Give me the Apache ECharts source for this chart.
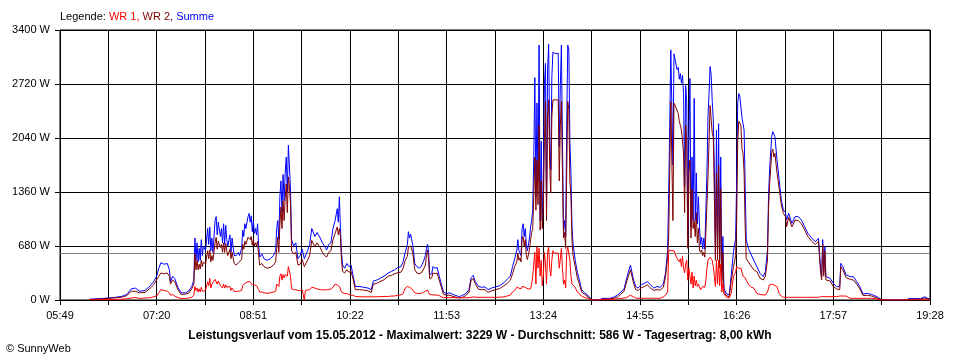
<!DOCTYPE html>
<html>
<head>
<meta charset="utf-8">
<script src="https://cdn.jsdelivr.net/npm/echarts@6/dist/echarts.min.js"></script>
<style>
html,body{margin:0;padding:0;background:#fff;}
#c{width:960px;height:360px;}
</style>
</head>
<body>
<div id="c"></div>
<script>
// Time axis: minutes after 05:49
const START_MIN = 349; // 05:49
const X_MAX = 819;     // 19:28
const X_STEP = 45.5;
const Y_TICKS = [0, 680, 1360, 2040, 2720, 3400];
const AVG = 586;

const T = [
28,40,50,58,63,67,71,75,80,85,
88,91,93,95,98,101,103,104,106,108,
111,114,118,121,124,126,127,128,129,130,
131,132,133,134,135,137,139,140,141,142,
143,144,146,147,148,149,151,152,153,154,
155,156,157,158,160,161,162,164,166,168,
169,171,172,173,174,175,177,178,179,180,
181,182,183,184,185,186,187,188,190,192,
195,198,201,203,204,205,206,207,208,209,
210,211,212,213,214,215,216,217,218,220,
222,224,226,228,230,231,233,235,237,238,
240,242,243,245,247,249,251,253,255,257,
259,261,262,263,264,265,266,268,270,272,
274,276,278,282,286,290,293,295,298,301,
305,309,312,315,318,321,323,325,327,328,
329,330,331,332,334,336,338,340,342,344,
345,346,347,348,350,351,353,355,357,359,
361,364,367,370,373,376,379,382,385,387,
389,391,394,397,400,403,406,410,414,418,
421,424,426,428,430,431,432,433,434,435,
436,437,438,439,440,441,442,443,444,445,
446,447,448,449,450,451,452,453,454,455,
456,457,458,459,460,461,462,463,464,465,
467,469,470,471,472,473,474,475,476,477,
478,479,480,481,482,483,485,487,489,491,
494,497,500,503,508,510,518,522,525,528,
531,533,535,537,538,540,542,544,547,550,
553,556,559,562,565,568,570,572,573,574,
575,576,577,578,579,580,581,582,583,584,
585,586,587,588,589,590,591,592,593,594,
595,596,597,598,599,600,601,602,603,604,
605,606,607,608,609,610,611,612,613,614,
615,616,617,618,619,620,621,622,623,624,
625,627,630,632,634,635,636,637,638,639,
640,641,642,643,644,645,646,648,650,653,
656,659,662,664,666,667,668,670,671,672,
673,675,677,679,681,683,684,686,689,692,
695,698,701,704,708,711,714,715,716,717,
718,719,720,721,722,725,728,731,734,735,
737,740,744,747,750,753,756,760,764,769,
773,778,797,799,810,814,817,819
];

const SUMME = [
10,20,30,45,70,140,150,110,120,180,
230,300,400,470,450,460,380,230,300,270,
160,90,90,110,170,250,780,500,720,480,
650,500,760,560,680,620,900,700,920,620,
780,600,1000,1050,820,980,800,900,720,960,
700,940,760,680,820,600,780,560,560,600,
560,650,880,800,960,900,1050,1090,980,1060,
860,1000,840,900,820,960,680,540,580,520,
500,520,560,620,900,1000,760,1300,1500,1100,
1580,1250,1600,1800,1350,1950,1930,1400,760,680,
720,520,560,640,520,500,620,700,900,880,
800,850,860,780,720,680,630,700,720,900,
1000,1150,980,1300,900,600,440,400,460,420,
440,300,170,170,160,150,130,240,250,270,
300,340,360,380,410,420,480,600,700,860,
780,830,820,700,460,420,400,420,480,560,
650,700,600,320,330,420,400,410,300,200,
100,80,90,70,55,42,60,80,130,280,
310,230,170,160,165,130,150,165,180,220,
260,300,420,520,620,760,620,640,560,900,
960,800,900,700,620,640,780,920,1000,1140,
1800,2800,1300,2480,1500,3210,1000,2000,1000,1500,
2700,2980,1180,2900,3220,2000,1640,2800,3120,3100,
3100,3110,1930,2700,3210,2000,880,1000,800,2200,
3210,3150,2000,1600,900,710,500,350,250,130,
90,60,10,0,0,20,21,40,63,100,
140,250,350,440,420,250,170,150,190,210,
230,190,150,170,160,200,340,620,1340,2200,
3150,3130,1700,3100,3090,2960,2900,2930,2780,2850,
2730,2830,2600,1430,2700,2480,800,2000,2790,920,
1800,1000,2540,1000,1600,960,1300,920,700,790,
640,780,640,1130,1600,2300,2600,2940,2830,2500,
2270,1640,590,2140,600,2220,500,1800,260,800,
150,84,63,330,600,700,760,1500,2480,2600,
2560,2580,2300,2220,2140,1430,760,650,590,504,
420,336,294,357,630,1300,1640,2060,2120,2090,
2057,1760,1511,1260,1133,1100,1007,1091,965,1049,
1050,1007,923,839,776,734,776,797,400,294,
760,350,671,294,300,273,210,168,168,462,
420,315,294,294,231,168,76,84,70,42,
8,0,0,17,17,40,20,10
];

const WR2 = [
5,15,25,35,55,110,110,90,95,150,
190,255,300,340,330,340,300,200,250,230,
130,70,75,85,140,200,580,380,500,380,
450,390,500,420,480,450,620,520,630,480,
560,500,720,790,640,740,660,700,600,720,
600,710,620,560,640,520,600,460,440,470,
450,510,700,640,740,700,790,800,760,800,
690,760,680,720,680,740,560,440,460,420,
400,410,440,480,650,790,600,950,1170,900,
1250,1000,1280,1460,1100,1550,1430,1200,620,580,
600,440,450,510,420,410,500,560,750,740,
670,720,730,660,600,560,540,600,620,760,
840,920,820,900,800,500,360,340,380,350,
360,260,130,130,125,115,95,200,210,230,
255,300,310,330,345,350,400,500,550,670,
650,680,670,600,380,340,330,340,380,440,
560,630,520,270,280,340,330,340,250,160,
70,60,60,45,35,25,35,55,100,250,
270,200,135,130,130,95,115,130,145,180,
210,250,330,420,480,590,500,530,480,760,
800,680,760,560,510,520,640,760,850,890,
1300,1800,1130,1760,1200,2200,880,1500,900,1150,
2000,2500,1000,2300,2520,1700,1350,2300,2520,2520,
2520,2520,1500,2200,2500,1600,780,850,650,1600,
2500,2400,1500,1300,750,560,420,280,200,100,
70,40,5,0,0,10,12,25,40,75,
110,210,300,380,360,210,130,120,150,170,
190,150,120,130,125,160,290,540,800,1600,
2500,2500,1000,2480,2500,2420,2380,2350,2250,2200,
2140,2000,1850,1100,2200,2000,650,1600,1760,780,
1400,900,1000,800,1100,720,900,630,600,630,
560,600,540,850,1200,1550,2000,2450,2270,2100,
2050,1300,500,1600,500,1700,400,1400,200,600,
100,60,40,250,420,480,560,1000,2000,2250,
2270,2200,1900,1850,1600,920,520,480,440,380,
357,273,252,300,500,1150,1450,1860,1900,1800,
1847,1600,1400,1200,1090,1050,923,1040,920,1007,
1000,960,880,800,735,700,740,750,350,252,
700,300,620,252,260,240,168,140,130,420,
380,280,260,250,200,140,55,60,50,25,
5,0,0,10,10,25,12,5
];

const WR1 = [
0,5,5,10,15,25,30,20,25,30,
40,50,90,130,120,110,90,60,70,50,
30,20,20,25,35,60,170,120,150,100,
140,100,160,110,130,120,230,180,270,150,
200,180,260,270,200,240,180,190,150,200,
150,190,160,140,170,120,150,110,105,110,
100,120,180,160,210,200,230,240,230,230,
190,200,190,190,180,190,130,100,100,90,
85,90,100,110,200,210,170,300,330,250,
320,280,320,340,300,420,400,300,140,130,
130,120,120,130,0,120,125,130,160,170,
150,140,140,130,130,125,130,130,140,160,
200,190,180,170,160,100,85,80,80,70,
60,60,45,42,40,40,40,40,42,42,
45,45,50,50,60,65,80,150,170,170,
160,150,145,120,90,84,84,84,95,110,
126,126,110,70,65,65,63,63,55,40,
30,30,30,30,28,28,28,28,30,35,
40,35,34,34,34,34,34,34,35,40,
50,63,100,120,160,170,150,160,140,170,
170,165,168,150,140,140,130,140,200,300,
450,600,200,670,400,650,300,500,180,300,
600,470,200,600,670,400,300,500,620,590,
590,590,400,520,650,400,200,250,150,600,
670,650,500,300,200,200,160,100,80,50,
30,20,0,0,0,5,5,10,15,20,
25,30,45,60,84,40,25,22,22,22,
22,22,22,22,22,40,60,100,600,630,
640,620,640,620,600,550,520,500,480,520,
420,550,400,340,450,500,250,400,420,200,
350,150,300,180,250,170,200,180,130,150,
170,170,160,250,400,500,520,540,540,500,
420,300,170,500,200,500,180,450,100,200,
80,40,25,90,300,300,350,420,420,400,
380,400,350,300,300,280,250,200,168,150,
84,70,63,63,100,150,190,200,200,190,
170,168,80,50,35,35,34,34,34,34,
34,34,34,34,34,34,34,40,42,42,
42,42,42,42,42,42,42,42,50,50,
50,50,21,21,21,21,21,21,21,15,
0,0,0,0,0,5,0,0
];

const FONT = "'Liberation Sans', Arial, sans-serif";
function pad(n){ return (n < 10 ? '0' : '') + n; }
function toPairs(vals){
  const n = Math.min(T.length, vals.length);
  const out = [];
  for (let i = 0; i < n; i++) out.push([T[i], vals[i]]);
  return out;
}

const chart = echarts.init(document.getElementById('c'), null, {renderer: 'canvas'});
chart.setOption({
  animation: false,
  backgroundColor: '#fff',
  textStyle: { fontFamily: FONT },
  title: [
    {
      left: 60, top: 11, padding: 0,
      text: '{k|Legende: }{a|WR 1, }{b|WR 2, }{c|Summe}',
      textStyle: {
        fontFamily: FONT, fontSize: 11, fontWeight: 'normal',
        rich: {
          k: { color: '#000', fontSize: 11, fontFamily: FONT },
          a: { color: '#ff0000', fontSize: 11, fontFamily: FONT },
          b: { color: '#800000', fontSize: 11, fontFamily: FONT },
          c: { color: '#0000ff', fontSize: 11, fontFamily: FONT }
        }
      }
    },
    {
      left: 'center', top: 330, padding: 0,
      text: 'Leistungsverlauf vom 15.05.2012 - Maximalwert: 3229 W - Durchschnitt: 586 W - Tagesertrag: 8,00 kWh',
      textStyle: { fontFamily: FONT, fontSize: 12, fontWeight: 'bold', color: '#000' }
    },
    {
      left: 6, top: 343, padding: 0,
      text: '\u00A9 SunnyWeb',
      textStyle: { fontFamily: FONT, fontSize: 11, fontWeight: 'normal', color: '#000' }
    }
  ],
  grid: { left: 60, right: 30, top: 30, bottom: 60, show: true, borderColor: '#000', borderWidth: 1 },
  xAxis: {
    type: 'value', min: 0, max: X_MAX, interval: X_STEP,
    axisLine: { show: true, lineStyle: { color: '#000', width: 1 } },
    axisTick: { show: true, length: 5, lineStyle: { color: '#000' } },
    splitLine: { show: true, lineStyle: { color: '#000', width: 1 } },
    axisLabel: {
      color: '#000', fontSize: 11, fontFamily: FONT, margin: 10, showMaxLabel: true, showMinLabel: true,
      formatter: function (v) {
        const k = Math.round(v / X_STEP);
        if (k % 2) return '';
        const m = START_MIN + Math.round(v);
        return pad(Math.floor(m / 60)) + ':' + pad(m % 60);
      }
    }
  },
  yAxis: {
    type: 'value', min: Y_TICKS[0], max: Y_TICKS[Y_TICKS.length - 1], interval: Y_TICKS[1] - Y_TICKS[0],
    axisLine: { show: true, lineStyle: { color: '#000', width: 1 } },
    axisTick: { show: true, length: 5, lineStyle: { color: '#000' } },
    splitLine: { show: true, lineStyle: { color: '#000', width: 1 } },
    axisLabel: { color: '#000', fontSize: 11, fontFamily: FONT, margin: 10, formatter: v => v + ' W' }
  },
  series: [
    {
      name: 'Summe', type: 'line', data: toPairs(SUMME), showSymbol: false, symbol: 'none',
      lineStyle: { color: '#0000ff', width: 1 }, itemStyle: { color: '#0000ff' }, z: 2,
      markLine: {
        silent: true, symbol: ['none', 'none'], label: { show: false },
        lineStyle: { color: '#808080', width: 1, type: 'solid' },
        data: [{ yAxis: AVG }], z: 1
      }
    },
    {
      name: 'WR 2', type: 'line', data: toPairs(WR2), showSymbol: false, symbol: 'none',
      lineStyle: { color: '#800000', width: 1 }, itemStyle: { color: '#800000' }, z: 3
    },
    {
      name: 'WR 1', type: 'line', data: toPairs(WR1), showSymbol: false, symbol: 'none',
      lineStyle: { color: '#ff0000', width: 1 }, itemStyle: { color: '#ff0000' }, z: 4
    }
  ]
});
</script>
</body>
</html>
